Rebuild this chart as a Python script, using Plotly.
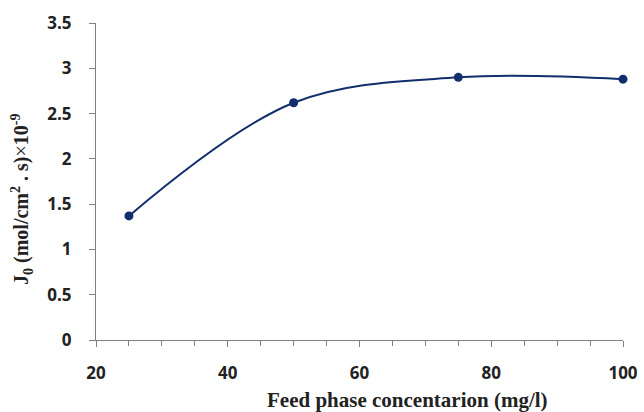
import plotly.graph_objects as go

conc = [25, 50, 75, 100]
flux = [1.37, 2.62, 2.90, 2.88]
x_ticks = [20, 40, 60, 80, 100]
y_ticks = [0, 0.5, 1, 1.5, 2, 2.5, 3, 3.5]
y_labels = ["0", "0.5", "1", "1.5", "2", "2.5", "3", "3.5"]

navy = "#112f6d"
fig = go.Figure()
fig.add_trace(go.Scatter(
    x=conc, y=flux, mode="lines+markers", cliponaxis=False,
    line=dict(color=navy, width=2, shape="spline", smoothing=1),
    marker=dict(color=navy, size=9),
))

tf = dict(family="Open Sans", size=17, color="#222222", weight="bold")
W, H = 644, 412
L, R, T, B = 96, 21, 23, 72
fig.update_layout(
    width=W, height=H,
    margin=dict(l=L, r=R, t=T, b=B),
    plot_bgcolor="white", paper_bgcolor="white",
    showlegend=False,
    xaxis=dict(
        range=[20, 100], tickvals=x_ticks, ticktext=[str(v) for v in x_ticks],
        showgrid=False, zeroline=False, showline=True, linecolor="#808080", linewidth=1,
        ticks="outside", ticklen=6, tickcolor="#808080",
        minor=dict(ticks="outside", dtick=5, ticklen=5, tickcolor="#808080"),
        tickfont=tf, ticklabelstandoff=12, automargin=False,
    ),
    yaxis=dict(
        range=[0, 3.5], tickvals=y_ticks, ticktext=y_labels,
        showgrid=False, zeroline=False, showline=True, linecolor="#808080", linewidth=1,
        ticks="outside", ticklen=6, tickcolor="#808080",
        tickfont=tf, ticklabelstandoff=14, automargin=False,
    ),
)
pw, ph = W - L - R, H - T - B
fig.add_annotation(
    text="<b>Feed phase concentarion (mg/l)</b>",
    xref="paper", yref="paper", x=(407 - L) / pw, y=-(400 - (H - B)) / ph,
    xanchor="center", yanchor="middle", showarrow=False,
    font=dict(family="Liberation Serif", size=21, color="#222222"),
)
fig.add_annotation(
    text="<b>J<sub>0</sub> (mol/cm<sup>2</sup> . s)</b>×<b>10<sup>-9</sup></b>",
    xref="paper", yref="paper", x=-(L - 22) / pw, y=((H - B) - 200) / ph,
    xanchor="center", yanchor="middle", showarrow=False, textangle=-90,
    font=dict(family="Liberation Serif", size=20, color="#222222"),
)
fig.write_html("out.html")
